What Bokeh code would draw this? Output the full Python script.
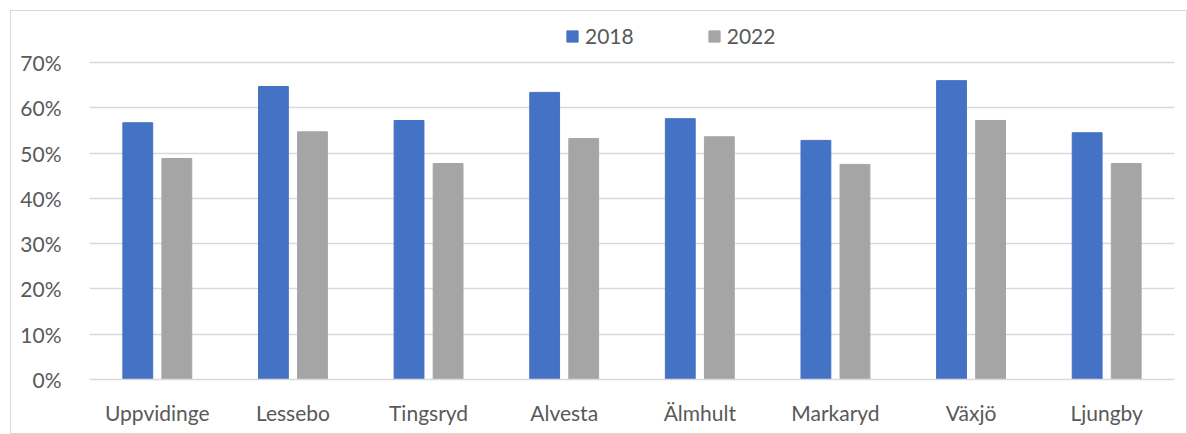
from bokeh.plotting import figure
from bokeh.models import ColumnDataSource, Legend, LegendItem, NumeralTickFormatter, FactorRange, Range1d
from bokeh.transform import dodge
from bokeh.embed import file_html
from bokeh.resources import INLINE

municipalities = ["Uppvidinge", "Lessebo", "Tingsryd", "Alvesta", "Älmhult", "Markaryd", "Växjö", "Ljungby"]
share_2018 = [0.567, 0.647, 0.572, 0.634, 0.576, 0.528, 0.660, 0.545]
share_2022 = [0.488, 0.547, 0.477, 0.532, 0.536, 0.475, 0.572, 0.477]
y_ticks = [0, 0.1, 0.2, 0.3, 0.4, 0.5, 0.6, 0.7]

FONT = "Lato"
source = ColumnDataSource(dict(m=municipalities, a=share_2018, b=share_2022))

p = figure(x_range=FactorRange(*municipalities, range_padding=0), y_range=Range1d(0, 0.795),
           width=1177, height=424, output_backend="svg", toolbar_location=None,
           min_border_left=78, min_border_right=14, min_border_top=8, min_border_bottom=56)
p.margin = (10, 0, 0, 10)
p.styles = {"border": "1.5px solid #d9d9d9", "box-sizing": "border-box"}

r1 = p.vbar(x=dodge("m", -0.144, range=p.x_range), top="a", width=0.22, source=source,
            fill_color="#4472C4", line_color="#4472C4")
r2 = p.vbar(x=dodge("m", 0.144, range=p.x_range), top="b", width=0.22, source=source,
            fill_color="#A5A5A5", line_color="#A5A5A5")

p.outline_line_color = None
p.xgrid.grid_line_color = None
p.ygrid.grid_line_color = "#d9d9d9"
p.ygrid.grid_line_width = 1.5
p.yaxis.ticker = y_ticks
p.yaxis.formatter = NumeralTickFormatter(format="0%")
for ax in (p.xaxis[0], p.yaxis[0]):
    ax.major_label_text_font = FONT
    ax.major_label_text_font_size = "21px"
    ax.major_label_text_color = "#595959"
    ax.major_tick_line_color = None
    ax.minor_tick_line_color = None
p.yaxis.axis_line_color = None
p.yaxis.major_label_standoff = 22
p.xaxis.axis_line_color = "#d9d9d9"
p.xaxis.axis_line_width = 1.5
p.xaxis.major_label_standoff = 14

legend = Legend(items=[LegendItem(label="2018", renderers=[r1]), LegendItem(label="2022", renderers=[r2])],
                orientation="horizontal", location=(476, 331), border_line_color=None,
                background_fill_alpha=0, padding=0, margin=0, spacing=73, label_standoff=6,
                glyph_width=14, glyph_height=14, label_text_font=FONT,
                label_text_font_size="21px", label_text_color="#595959")
p.add_layout(legend, "center")

open("out.html", "w").write(file_html(p, INLINE))
